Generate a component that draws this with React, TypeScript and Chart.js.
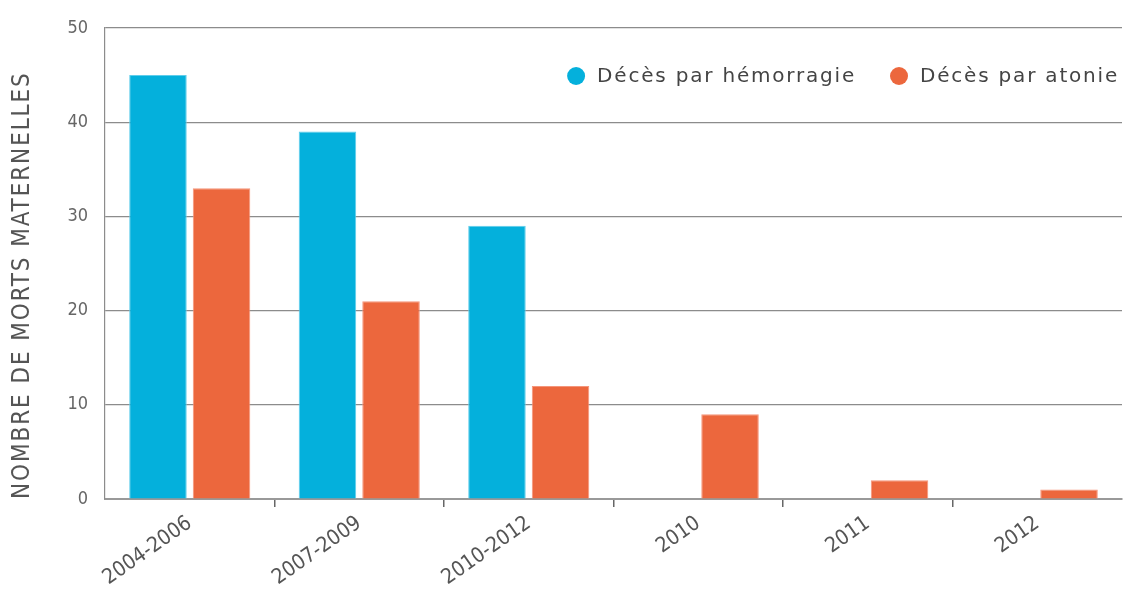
import { useEffect, useRef } from "react";
import { Chart, registerables } from "chart.js";

Chart.register(...registerables);

const categories = ["2004-2006", "2007-2009", "2010-2012", "2010", "2011", "2012"];
const hemorragie = [45, 39, 29, 0, 0, 0];
const atonie = [33, 21, 12, 9, 2, 1];
const seriesLabels = ["Décès par hémorragie", "Décès par atonie"];
const seriesColors = ["#04B0DC", "#EC673D"];
const seriesBorders = ["#5FCDEB", "#F5957A"];
const yTitle = "NOMBRE DE MORTS MATERNELLES";
const yMin = 0;
const yMax = 50;
const yStep = 10;

const NARROW = '"DejaVu Sans Condensed", "DejaVu Sans", sans-serif';

const legendPlugin = {
  id: "customLegend",
  afterDraw(chart: any) {
    const { ctx, chartArea } = chart;
    ctx.save();
    ctx.font = '20px "DejaVu Sans", sans-serif';
    (ctx as any).letterSpacing = "1.8px";
    ctx.textBaseline = "middle";
    ctx.textAlign = "left";
    const y = chartArea.top + 48;
    let x = chartArea.right - 3;
    const ds = chart.data.datasets;
    for (let i = ds.length - 1; i >= 0; i--) {
      const label = ds[i].label as string;
      const w = ctx.measureText(label).width;
      const tx = x - w;
      ctx.fillStyle = "#444";
      ctx.fillText(label, tx, y + 1);
      const cx = tx - 12 - 9;
      ctx.beginPath();
      ctx.arc(cx, y, 9, 0, Math.PI * 2);
      ctx.fillStyle = ds[i].backgroundColor as string;
      ctx.fill();
      x = cx - 9 - 34;
    }
    ctx.restore();
  },
};

const spacingPlugin = {
  id: "letterSpacing",
  afterLayout(chart: any) {
    const ys = chart.scales.y;
    if (ys && !ys._lsPatched) {
      const orig = ys.drawTitle;
      ys.drawTitle = function (a: any) {
        const c = this.ctx;
        c.save();
        c.letterSpacing = "1.9px";
        orig.call(this, a);
        c.restore();
      };
      ys._lsPatched = true;
    }
  },
};

export default function App() {
  const ref = useRef<HTMLCanvasElement | null>(null);

  useEffect(() => {
    document.body.style.margin = "0";
    const canvas = ref.current;
    if (!canvas) return;
    const chart = new Chart(canvas, {
      type: "bar",
      data: {
        labels: categories,
        datasets: [
          {
            label: seriesLabels[0],
            data: hemorragie,
            backgroundColor: seriesColors[0],
            borderColor: seriesBorders[0],
            borderWidth: 1,
            categoryPercentage: 0.75,
            barPercentage: 0.905,
          },
          {
            label: seriesLabels[1],
            data: atonie,
            backgroundColor: seriesColors[1],
            borderColor: seriesBorders[1],
            borderWidth: 1,
            categoryPercentage: 0.75,
            barPercentage: 0.905,
          },
        ],
      },
      options: {
        responsive: false,
        animation: false,
        layout: { padding: { top: 28, right: 1, left: 0, bottom: 0 } },
        plugins: {
          legend: { display: false },
          tooltip: { enabled: false },
        },
        scales: {
          x: {
            afterFit: (s: any) => {
              s.height = 91;
            },
            grid: {
              display: true,
              drawOnChartArea: false,
              drawTicks: true,
              tickLength: 8,
              offset: true,
              lineWidth: 1.5,
              color: (ctx: any) =>
                ctx.type === "tick" && ctx.index > 0 ? "#666" : "rgba(0,0,0,0)",
            },
            border: { display: true, color: "#999", width: 2 },
            ticks: {
              minRotation: 35,
              maxRotation: 35,
              padding: 4,
              color: "#555",
              font: { family: NARROW, size: 21 },
            },
          },
          y: {
            min: yMin,
            max: yMax,
            afterFit: (s: any) => {
              s.width = 105;
            },
            grid: {
              color: "#8c8c8c",
              lineWidth: 1.2,
              drawTicks: false,
            },
            border: { display: true, color: "#8c8c8c", width: 1.2 },
            ticks: {
              stepSize: yStep,
              padding: 17,
              color: "#666",
              font: { family: NARROW, size: 18 },
            },
            title: {
              display: true,
              text: yTitle,
              align: "start",
              color: "#555",
              font: { family: NARROW, size: 24 },
              padding: { top: 8, bottom: 0 },
            },
          },
        },
      },
      plugins: [legendPlugin, spacingPlugin],
    });
    return () => chart.destroy();
  }, []);

  return (
    <div style={{ width: 1123, height: 590 }}>
      <canvas ref={ref} width={1123} height={590} style={{ display: "block" }} />
    </div>
  );
}
